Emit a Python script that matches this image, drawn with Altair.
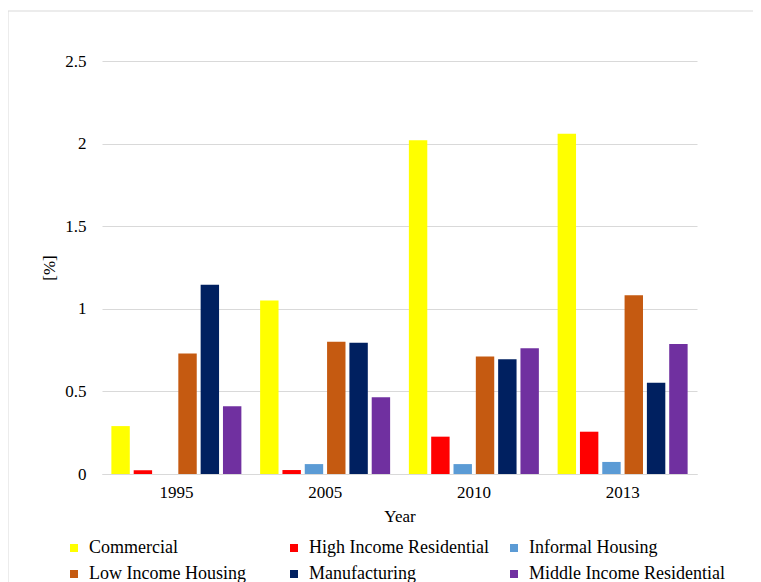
import altair as alt
import pandas as pd

years = ["1995", "2005", "2010", "2013"]
categories = ["Commercial", "High Income Residential", "Informal Housing",
              "Low Income Housing", "Manufacturing", "Middle Income Residential"]
colors = ["#FFFF00", "#FF0000", "#5B9BD5", "#C55A11", "#002060", "#7030A0"]

commercial = [0.29, 1.05, 2.02, 2.06]
high_income = [0.022, 0.024, 0.226, 0.256]
informal = [0.0, 0.06, 0.06, 0.073]
low_income = [0.73, 0.80, 0.712, 1.082]
manufacturing = [1.146, 0.795, 0.694, 0.553]
middle_income = [0.41, 0.464, 0.761, 0.787]

series = [commercial, high_income, informal, low_income, manufacturing, middle_income]
rows = []
for cat, vals in zip(categories, series):
    for y, v in zip(years, vals):
        rows.append({"Year": y, "Category": cat, "Value": v})
df = pd.DataFrame(rows)

FONT = "Liberation Serif"

bars = alt.Chart(df).mark_bar().encode(
    x=alt.X("Year:N", sort=years,
            scale=alt.Scale(paddingInner=0, paddingOuter=0),
            axis=alt.Axis(title="Year", labelAngle=0, ticks=False, domainColor="#d9d9d9",
                          labelPadding=10, titlePadding=8)),
    xOffset=alt.XOffset("Category:N", sort=categories,
                        scale=alt.Scale(paddingInner=0.175, paddingOuter=0.42)),
    y=alt.Y("Value:Q", scale=alt.Scale(domain=[0, 2.5], nice=False),
            axis=alt.Axis(title="[%]", values=[0, 0.5, 1, 1.5, 2, 2.5], format="~f",
                          domain=False, ticks=False, gridColor="#d9d9d9",
                          labelPadding=16, titlePadding=6)),
    color=alt.Color("Category:N", sort=categories,
                    scale=alt.Scale(domain=categories, range=colors),
                    legend=alt.Legend(title=None, orient="none", legendX=-37, legendY=478,
                                      direction="horizontal", gridAlign="all",
                                      columns=3, symbolType="square", symbolSize=64,
                                      symbolStrokeWidth=0, labelOffset=6,
                                      columnPadding=0, rowPadding=8, labelLimit=400,
                                      labelFontSize=18, labelFont=FONT,
                                      labelColor="#000000", padding=0)),
)

border = alt.Chart(pd.DataFrame({"a": [0]})).mark_rect(
    fillOpacity=0, stroke="#d9d9d9", strokeWidth=1
).encode(x=alt.value(-94), x2=alt.value(700), y=alt.value(-50), y2=alt.value(600))

chart = alt.layer(border, bars).properties(
    width=595, height=413,
    autosize=alt.AutoSizeParams(type="none"),
    padding={"left": 94, "top": 53, "right": 56, "bottom": 108},
).configure(font=FONT).configure_view(stroke=None).configure_axis(
    labelFont=FONT, titleFont=FONT, labelFontSize=17, titleFontSize=17,
    labelColor="#000000", titleColor="#000000", titleFontWeight="normal"
).configure_legend(labelFont=FONT)

chart.save("out.html", embed_options={"renderer": "svg", "actions": False})
